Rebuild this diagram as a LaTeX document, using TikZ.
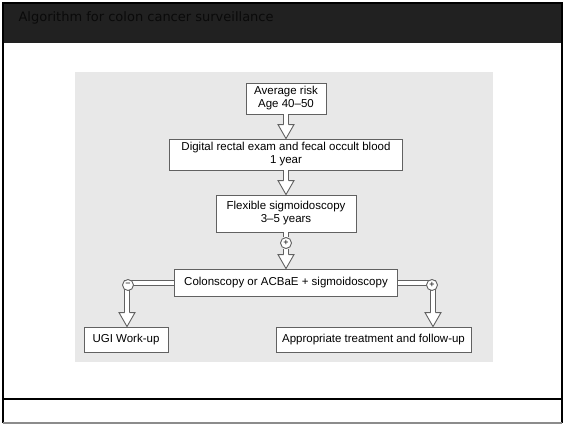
\documentclass[tikz,border=0pt]{standalone}
\usepackage{fontspec}
\setmainfont{Liberation Sans}
\newfontfamily\titrefont{DejaVu Sans}
\usetikzlibrary{calc}
\begin{document}
\begin{tikzpicture}[x=1pt,y=-1pt]
% définition des paramètres
\tikzstyle boitecolon=[draw=black!62,fill=white,line width=0.9pt,inner sep=0pt,align=center,font=\fontsize{11.5}{13}\selectfont]
\tikzstyle tuyaucolon=[draw=black!62,line width=0.9pt,double=white,double distance=4pt]
\tikzstyle pointecolon=[draw=black!62,fill=white,line width=0.9pt,line join=miter]
\tikzstyle signecolon=[circle,draw=black!62,fill=white,line width=0.9pt,minimum size=11pt,inner sep=0pt,font=\fontsize{9}{9}\selectfont]
\newcommand{\xaxe}{286}     % abscisse de la colonne centrale
\newcommand{\xgauche}{127}  % tuyau de gauche
\newcommand{\xdroite}{433}  % tuyau de droite
\newcommand{\ytuyau}{283}   % ordonnée des tuyaux
\newcommand{\pointelong}{14} % longueur de la pointe
\newcommand{\pointelarg}{8}  % demi-largeur de la pointe
% la pointe creuse posée sur un point d'arrivée
\newcommand{\pointecolon}[1]{%
  \draw[pointecolon] ($(#1)+(-2.5,-\pointelong)$) -- ($(#1)+(-\pointelarg,-\pointelong)$) -- (#1) -- ($(#1)+(\pointelarg,-\pointelong)$) -- ($(#1)+(2.5,-\pointelong)$);}
\useasboundingbox (0,0) rectangle (565,424);
% le cadre
\fill[black!87] (3,3) rectangle (562,43);
\node[anchor=west,text=black!96,font=\titrefont\fontsize{13}{13}\selectfont] (titre) at (15,17.5) {Algorithm for colon cancer surveillance};
\fill[black!9] (75,72) rectangle (493,362);
\draw[line width=1.2pt] (3,399) -- (562,399);
\draw[line width=1.6pt] (3,423) -- (3,3) -- (562,3) -- (562,423);
\draw[black!45,line width=1.6pt] (3,423) -- (562,423);
% les boîtes
\node[boitecolon,minimum width=80pt,minimum height=31pt] (risque) at (\xaxe,98.5) {Average risk\\Age 40--50};
\node[boitecolon,minimum width=233pt,minimum height=31pt] (toucher) at (\xaxe,154.5) {Digital rectal exam and fecal occult blood\\1 year};
\node[boitecolon,minimum width=140pt,minimum height=37pt] (sigmo) at (\xaxe,213.5) {Flexible sigmoidoscopy\\3--5 years};
\node[signecolon] (plus) at (\xaxe,243) {+};
\node[boitecolon,minimum width=223pt,minimum height=27pt] (colo) at (\xaxe,282.5) {Colonscopy or ACBaE + sigmoidoscopy};
\node[boitecolon,minimum width=84pt,minimum height=25pt] (ugi) at (126,339.5) {UGI Work-up};
\node[boitecolon,minimum width=195pt,minimum height=25pt] (suivi) at (373.5,339.5) {Appropriate treatment and follow-up};
% les points d'arrivée
\coordinate (coingauche) at (\xgauche,\ytuyau);
\coordinate (coindroit) at (\xdroite,\ytuyau);
\coordinate (arriveeg) at (ugi.north -| coingauche);
\coordinate (arriveed) at (suivi.north -| coindroit);
% les flèches du milieu
\draw[tuyaucolon] (risque.south) -- ($(toucher.north)+(0,-\pointelong)$);
\pointecolon{toucher.north}
\draw[tuyaucolon] (toucher.south) -- ($(sigmo.north)+(0,-\pointelong)$);
\pointecolon{sigmo.north}
\draw[tuyaucolon] (sigmo.south) -- (plus.north);
\draw[tuyaucolon] (plus.south) -- ($(colo.north)+(0,-\pointelong)$);
\pointecolon{colo.north}
% les branches
\draw[tuyaucolon] (colo.west |- coingauche) -- (coingauche) -- ($(arriveeg)+(0,-\pointelong)$);
\pointecolon{arriveeg}
\draw[tuyaucolon] (colo.east |- coindroit) -- (coindroit) -- ($(arriveed)+(0,-\pointelong)$);
\pointecolon{arriveed}
\node[signecolon] (moins) at ($(coingauche)+(1,2)$) {−};
\node[signecolon] (plusd) at ($(coindroit)+(-1,2)$) {+};
\end{tikzpicture}
\end{document}
